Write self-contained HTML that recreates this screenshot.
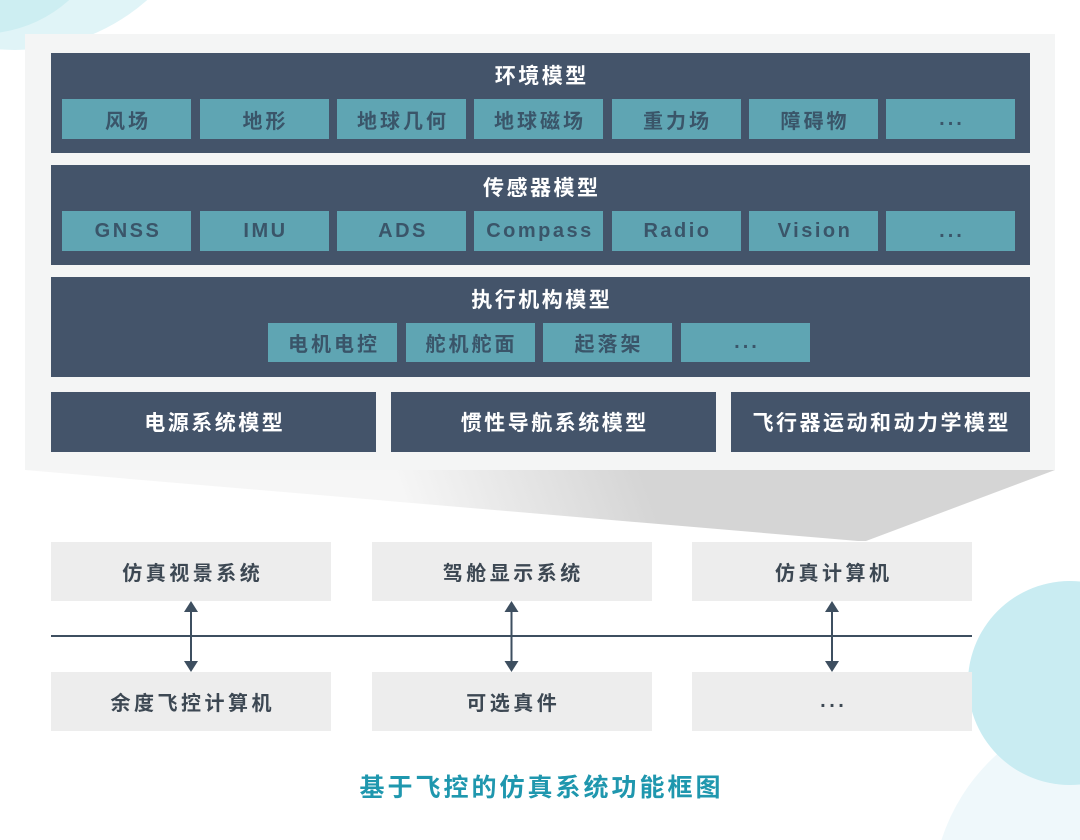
<!DOCTYPE html>
<html><head><meta charset="utf-8">
<style>
html,body{margin:0;padding:0;width:1080px;height:840px;overflow:hidden;}
body{position:relative;background:#fff;font-family:"Liberation Sans","Noto Sans CJK SC",sans-serif;}
.a{position:absolute;}
svg.a{display:block;}
.box{position:absolute;display:flex;align-items:center;justify-content:center;font-weight:bold;white-space:nowrap;}
.dark{background:#44546a;}
.teal{background:#5fa5b3;color:#3a5569;font-size:20px;letter-spacing:3px;padding-left:3px;box-sizing:border-box;}
.lat{letter-spacing:2.5px;}
.ttl{position:absolute;left:51px;width:979px;text-align:center;color:#fff;font-weight:bold;font-size:21px;letter-spacing:2.5px;padding-left:2.5px;box-sizing:border-box;height:26px;line-height:26px;}
.bt{color:#fff;font-size:21px;letter-spacing:2.5px;padding-left:2.5px;box-sizing:border-box;}
.gb{background:#ededed;color:#3d4853;font-size:20px;letter-spacing:3.5px;padding-left:3.5px;box-sizing:border-box;}
</style></head><body>
<svg class="a" style="left:0;top:0" width="1080" height="840" viewBox="0 0 1080 840">
  <defs>
    <linearGradient id="fun" gradientUnits="userSpaceOnUse" x1="640" y1="470" x2="420" y2="548">
      <stop offset="0" stop-color="#d5d5d5"/>
      <stop offset="1" stop-color="#f6f6f6"/>
    </linearGradient>
  </defs>
  <path d="M0 0 L147.3 0 A200 200 0 0 1 0 49.4 Z" fill="#e0f4f7"/>
  <path d="M0 0 L69.2 0 A134 134 0 0 1 0 32.5 Z" fill="#cdeef2"/>
  <path d="M941.4 840 A196 196 0 0 1 1080 710 L1080 840 Z" fill="#eff8fb"/>
  <path d="M1080 581.5 A102 102 0 1 0 1080 784.5 Z" fill="#c9ecf2"/>
  <polygon points="25,470 1055,470 866,541 858,541" fill="url(#fun)"/>
  <rect x="25" y="34" width="1030" height="436" fill="#f4f5f5"/>
  <rect x="51" y="635" width="921" height="2" fill="#3e4f60"/>
  <g fill="#3e4f60">
    <rect x="190" y="610" width="2" height="53"/>
    <polygon points="191,601 184,612 198,612"/>
    <polygon points="191,672 184,661 198,661"/>
    <rect x="510.5" y="610" width="2" height="53"/>
    <polygon points="511.5,601 504.5,612 518.5,612"/>
    <polygon points="511.5,672 504.5,661 518.5,661"/>
    <rect x="831" y="610" width="2" height="53"/>
    <polygon points="832,601 825,612 839,612"/>
    <polygon points="832,672 825,661 839,661"/>
  </g>
</svg>

<div class="a dark" style="left:51px;top:53px;width:979px;height:100px;"></div>
<div class="ttl" style="top:64px;">环境模型</div>
<div class="box teal" style="left:62px;top:99px;width:129px;height:40px;">风场</div>
<div class="box teal" style="left:199.5px;top:99px;width:129px;height:40px;">地形</div>
<div class="box teal" style="left:337px;top:99px;width:129px;height:40px;">地球几何</div>
<div class="box teal" style="left:474px;top:99px;width:129px;height:40px;">地球磁场</div>
<div class="box teal" style="left:611.5px;top:99px;width:129px;height:40px;">重力场</div>
<div class="box teal" style="left:749px;top:99px;width:129px;height:40px;">障碍物</div>
<div class="box teal" style="left:886px;top:99px;width:129px;height:40px;">...</div>

<div class="a dark" style="left:51px;top:165px;width:979px;height:100px;"></div>
<div class="ttl" style="top:176px;">传感器模型</div>
<div class="box teal lat" style="left:62px;top:211px;width:129px;height:40px;">GNSS</div>
<div class="box teal lat" style="left:199.5px;top:211px;width:129px;height:40px;">IMU</div>
<div class="box teal lat" style="left:337px;top:211px;width:129px;height:40px;">ADS</div>
<div class="box teal lat" style="left:474px;top:211px;width:129px;height:40px;">Compass</div>
<div class="box teal lat" style="left:611.5px;top:211px;width:129px;height:40px;">Radio</div>
<div class="box teal lat" style="left:749px;top:211px;width:129px;height:40px;">Vision</div>
<div class="box teal" style="left:886px;top:211px;width:129px;height:40px;">...</div>

<div class="a dark" style="left:51px;top:277px;width:979px;height:100px;"></div>
<div class="ttl" style="top:288px;">执行机构模型</div>
<div class="box teal" style="left:268px;top:323px;width:129px;height:39px;">电机电控</div>
<div class="box teal" style="left:405.5px;top:323px;width:129px;height:39px;">舵机舵面</div>
<div class="box teal" style="left:543px;top:323px;width:129px;height:39px;">起落架</div>
<div class="box teal" style="left:681px;top:323px;width:129px;height:39px;">...</div>

<div class="box dark bt" style="left:51px;top:392px;width:325px;height:60px;">电源系统模型</div>
<div class="box dark bt" style="left:391px;top:392px;width:325px;height:60px;">惯性导航系统模型</div>
<div class="box dark bt" style="left:731px;top:392px;width:299px;height:60px;">飞行器运动和动力学模型</div>

<div class="box gb" style="left:51px;top:542px;width:280px;height:59px;">仿真视景系统</div>
<div class="box gb" style="left:371.5px;top:542px;width:280px;height:59px;">驾舱显示系统</div>
<div class="box gb" style="left:692px;top:542px;width:280px;height:59px;">仿真计算机</div>
<div class="box gb" style="left:51px;top:672px;width:280px;height:59px;">余度飞控计算机</div>
<div class="box gb" style="left:371.5px;top:672px;width:280px;height:59px;">可选真件</div>
<div class="box gb" style="left:692px;top:672px;width:280px;height:59px;">...</div>

<div class="a" style="left:0;top:771px;width:1080px;height:34px;text-align:center;color:#1f97ae;font-weight:bold;font-size:25px;letter-spacing:3px;padding-left:3px;box-sizing:border-box;line-height:34px;">基于飞控的仿真系统功能框图</div>
</body></html>
